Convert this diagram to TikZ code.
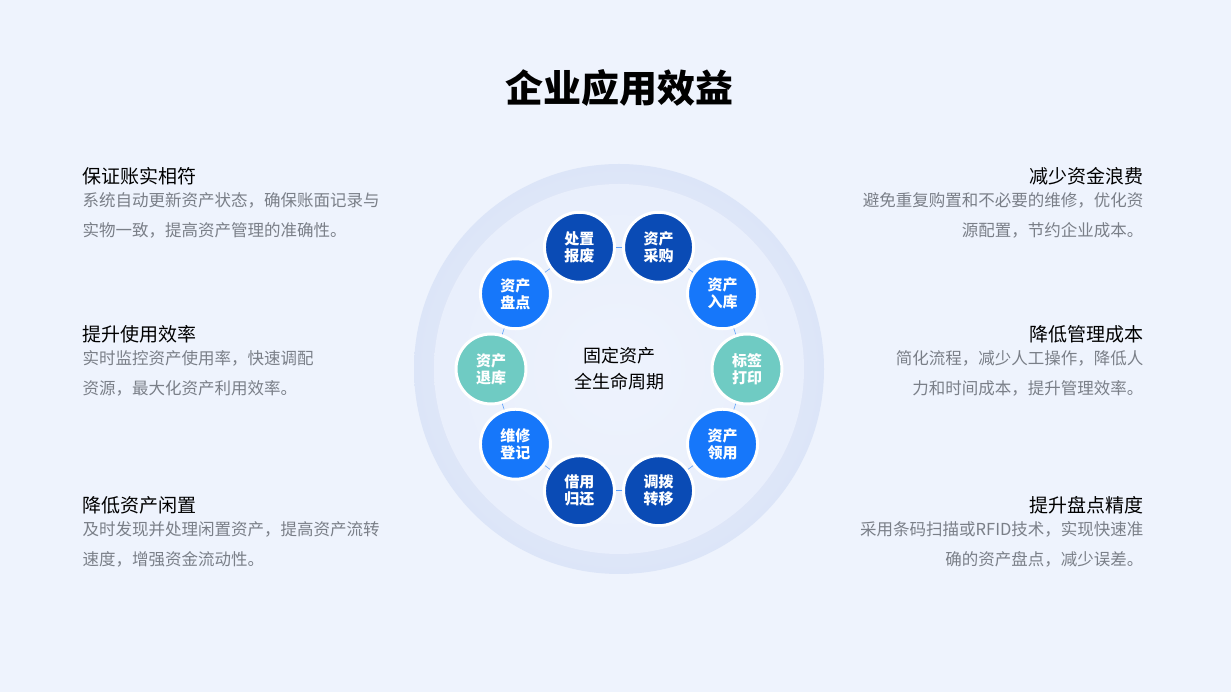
\documentclass[tikz,border=0pt]{standalone}
\usepackage{fontspec}
\setmainfont{Noto Sans CJK SC}
\usetikzlibrary{positioning,calc}
\definecolor{bgcol}{HTML}{EEF3FD}
\definecolor{darkblue}{HTML}{0A4BB5}
\definecolor{brightblue}{HTML}{1677FA}
\definecolor{tealcol}{HTML}{6FCBC3}
\definecolor{greytext}{HTML}{7A7F88}
\definecolor{ringcol}{HTML}{DCE5F8}
\tikzset{
  stage/.style={circle,draw=white,line width=3pt,minimum size=70pt,inner sep=0pt,
    text=white,font=\fontsize{15}{17}\selectfont\bfseries,align=center},
  heading/.style={font=\fontsize{19}{22}\selectfont,text=black},
  body/.style={font=\fontsize{16.5}{30}\selectfont,text=greytext},
  link/.style={draw=brightblue!70,line width=0.6pt}
}
\begin{document}
\begin{tikzpicture}[x=1pt,y=1pt]
\fill[bgcol] (0,0) rectangle (1231,692);
\useasboundingbox (0,0) rectangle (1231,692);
\node[font=\fontsize{38}{44}\selectfont\bfseries] (title) at (619,604) {企业应用效益};
% ring behind the cycle
\shade[inner color=bgcol,outer color=ringcol] (619,323) circle (205);
\shade[inner color=bgcol,outer color=bgcol!70!ringcol] (619,323) circle (185);
\node[font=\fontsize{18}{26}\selectfont,align=center] (hub) at (619,323) {固定资产\\全生命周期};
% the ten stages
\foreach \name/\ang/\col/\txt in {
  buy/72/darkblue/资产\\采购, store/36/brightblue/资产\\入库, label/0/tealcol/标签\\打印,
  issue/-36/brightblue/资产\\领用, move/-72/darkblue/调拨\\转移, lend/-108/darkblue/借用\\归还,
  fix/-144/brightblue/维修\\登记, back/180/tealcol/资产\\退库, count/144/brightblue/资产\\盘点,
  scrap/108/darkblue/处置\\报废}
  \node[stage,fill=\col] (\name) at ($(619,323)+(\ang:128)$) {\txt};
\foreach \a/\b in {buy/store,store/label,label/issue,issue/move,move/lend,lend/fix,fix/back,back/count,count/scrap,scrap/buy}
  \draw[link] (\a) -- (\b);
% left column
\node[heading,anchor=west] (l1) at (79,516) {保证账实相符};
\node[body,anchor=north west,align=left] (l1t) at (79,503) {系统自动更新资产状态，确保账面记录与\\实物一致，提高资产管理的准确性。};
\node[heading,anchor=west] (l2) at (79,358) {提升使用效率};
\node[body,anchor=north west,align=left] (l2t) at (79,345) {实时监控资产使用率，快速调配\\资源，最大化资产利用效率。};
\node[heading,anchor=west] (l3) at (79,187) {降低资产闲置};
\node[body,anchor=north west,align=left] (l3t) at (79,174) {及时发现并处理闲置资产，提高资产流转\\速度，增强资金流动性。};
% right column
\node[heading,anchor=east] (r1) at (1147,516) {减少资金浪费};
\node[body,anchor=north east,align=right] (r1t) at (1147,503) {避免重复购置和不必要的维修，优化资\\源配置，节约企业成本。};
\node[heading,anchor=east] (r2) at (1147,358) {降低管理成本};
\node[body,anchor=north east,align=right] (r2t) at (1147,345) {简化流程，减少人工操作，降低人\\力和时间成本，提升管理效率。};
\node[heading,anchor=east] (r3) at (1147,187) {提升盘点精度};
\node[body,anchor=north east,align=right] (r3t) at (1147,174) {采用条码扫描或RFID技术，实现快速准\\确的资产盘点，减少误差。};
\end{tikzpicture}
\end{document}
